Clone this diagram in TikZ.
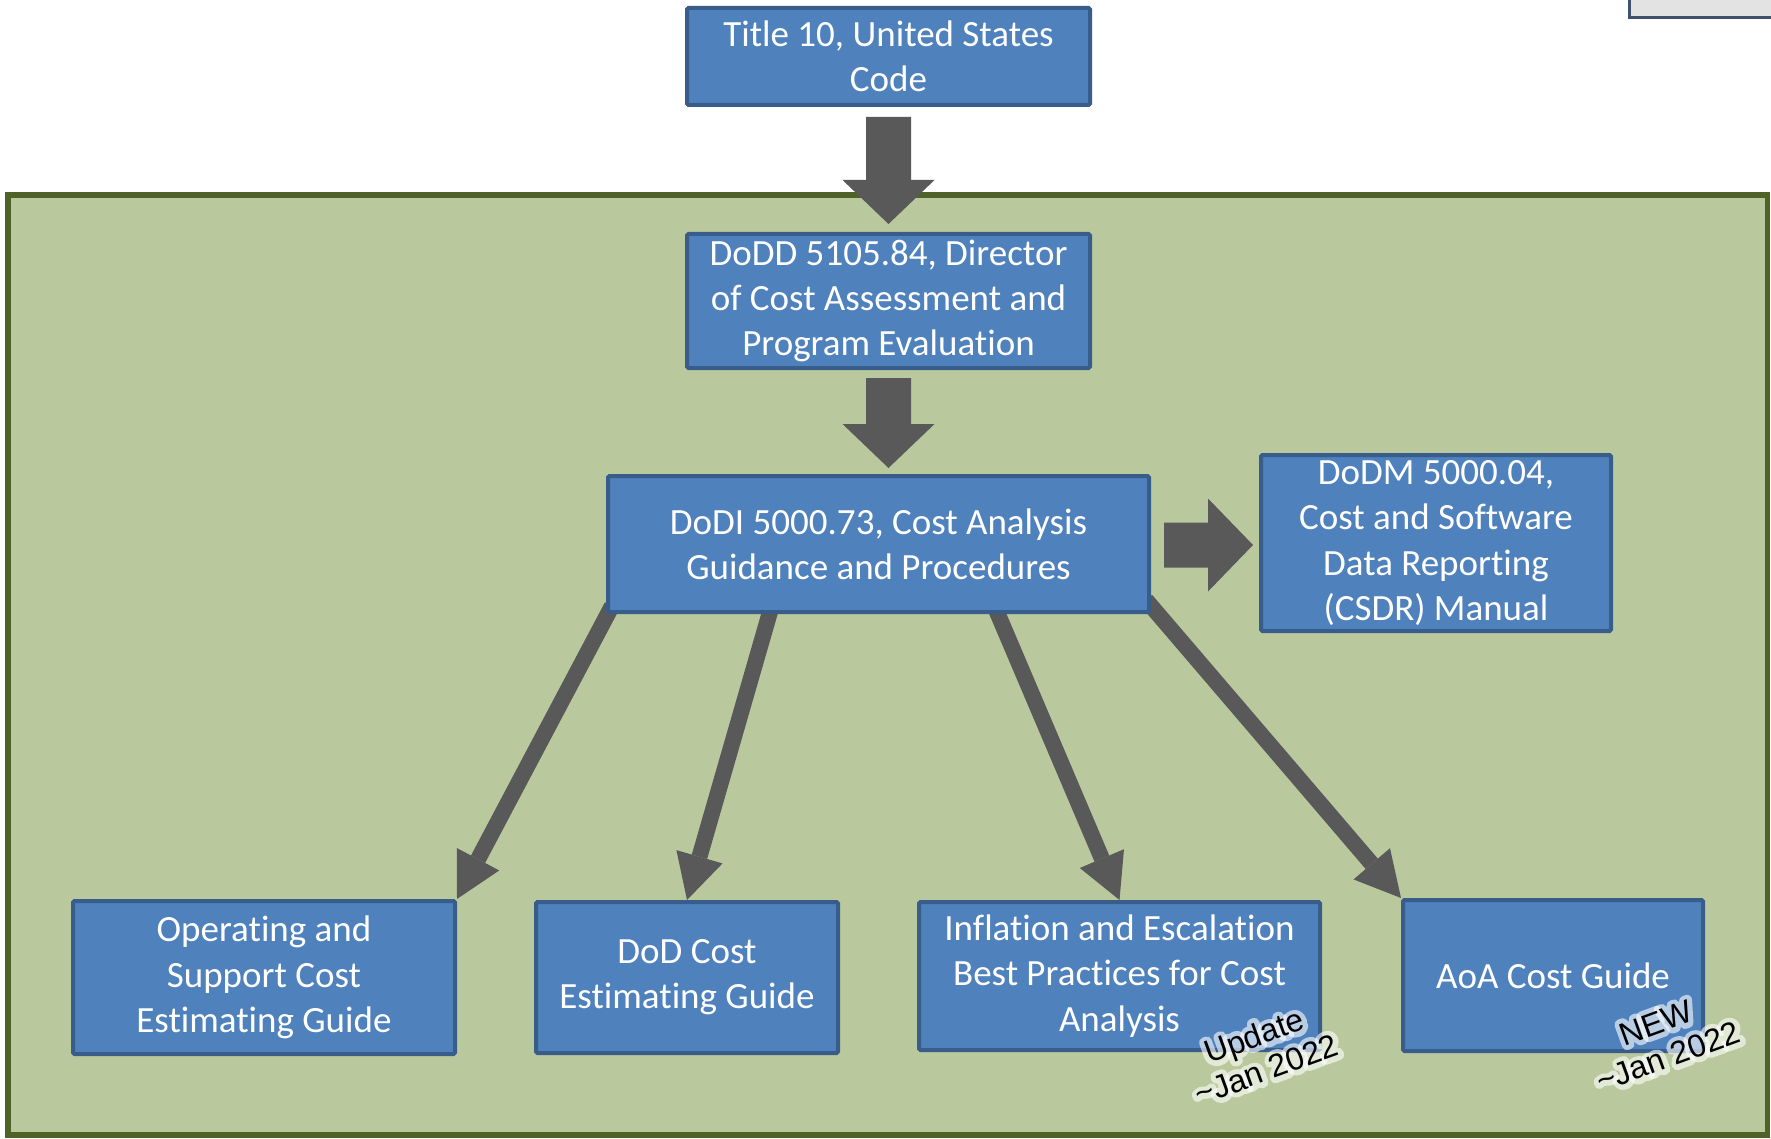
\documentclass[tikz,border=0pt]{standalone}
\usepackage{fontspec}
\setmainfont{Carlito}[Ligatures={NoCommon}]
\newfontfamily\arialfont{Liberation Sans}
\usetikzlibrary{arrows.meta,calc}
\definecolor{boxblue}{RGB}{79,129,189}
\definecolor{boxborder}{RGB}{56,93,138}
\definecolor{framefill}{RGB}{186,201,157}
\definecolor{frameline}{RGB}{79,98,40}
\definecolor{arrowgray}{RGB}{89,89,89}
\definecolor{tabfill}{RGB}{227,227,227}
\definecolor{tabline}{RGB}{64,80,110}
\pgfdeclarelayer{bg}\pgfdeclarelayer{conn}\pgfsetlayers{bg,conn,main}
% block arrow pointing down: #1 start point, #2 tip point
\newcommand\blkdown[2]{%
  \fill[arrowgray] let \p1=(#1), \p2=(#2) in
    (\x1-22.5pt,\y1) -- (\x1+22.5pt,\y1) -- (\x1+22.5pt,\y2+44pt) -- (\x1+46pt,\y2+44pt)
    -- (\x1,\y2) -- (\x1-46pt,\y2+44pt) -- (\x1-22.5pt,\y2+44pt) -- cycle;}
% block arrow pointing right
\newcommand\blkright[2]{%
  \fill[arrowgray] let \p1=(#1), \p2=(#2) in
    (\x1,\y1+22.5pt) -- (\x2-45pt,\y1+22.5pt) -- (\x2-45pt,\y1+46.5pt) -- (\x2,\y1)
    -- (\x2-45pt,\y1-46.5pt) -- (\x2-45pt,\y1-22.5pt) -- (\x1,\y1-22.5pt) -- cycle;}
% outline-stroked text used as a glow
\newcommand\glowtext[2]{\special{pdf:literal direct 1 J 1 j #1 w 1 1 1 RG 1 Tr}#2\special{pdf:literal direct 0 Tr}}
\newcommand\glowlabel[4]{%
  \node[lbl,opacity=0.6,rotate=#3] (#1-g) at (#2) {\glowtext{10}{#4}};
  \node[lbl,rotate=#3] (#1) at (#2) {#4};}
\begin{document}
\begin{tikzpicture}[x=1pt,y=-1pt,
  box/.style={draw=boxborder,line width=4pt,fill=boxblue,text=white,align=center,
    inner sep=0pt,rounded corners=1.5pt,font=\fontsize{37}{45.3}\selectfont},
  diag/.style={draw=arrowgray,line width=16pt,
    -{Triangle[length=45pt,width=48pt,line width=0pt]}},
  lbl/.style={align=center,inner sep=0pt,text=black,
    font=\arialfont\fontsize{32}{36}\selectfont}]
\useasboundingbox (0,0) rectangle (1771,1139);

% background frame and top-right tab
\begin{pgfonlayer}{bg}
\draw[draw=frameline,fill=framefill,line width=5.5pt] (8,195) rectangle (1767.5,1135);
\draw[draw=tabline,fill=tabfill,line width=3pt] (1629.5,-10) rectangle (1790,18);
\end{pgfonlayer}

% boxes
\node[box,minimum width=403pt,minimum height=97pt] (t) at (888.5,56.5)
  {Title 10, United States\\Code};
\node[box,minimum width=403pt,minimum height=134pt] (d) at (888.5,301)
  {DoDD 5105.84, Director\\of Cost Assessment and\\Program Evaluation};
\node[box,minimum width=541pt,minimum height=136pt] (dodi) at (878.5,544)
  {DoDI 5000.73, Cost Analysis\\Guidance and Procedures};
\node[box,minimum width=350pt,minimum height=176pt] (dodm) at (1436,543)
  {DoDM 5000.04,\\Cost and Software\\Data Reporting\\(CSDR) Manual};
\node[box,minimum width=382pt,minimum height=153pt] (os) at (264,977.5)
  {Operating and\\Support Cost\\Estimating Guide};
\node[box,minimum width=302pt,minimum height=151pt] (dce) at (687,977.5)
  {DoD Cost\\Estimating Guide};
\node[box,minimum width=401pt,minimum height=148pt] (infl) at (1119.5,976)
  {Inflation and Escalation\\Best Practices for Cost\\Analysis};
\node[box,minimum width=300pt,minimum height=151pt] (aoa) at (1553,975.5)
  {AoA Cost Guide};

% block arrows
\blkdown{$(t.south)+(0,10)$}{$(d.north)+(0,-8)$}
\blkdown{$(d.south)+(0,8)$}{$(dodi.north)+(0,-6)$}
\blkright{$(dodi.east)+(13,1)$}{$(dodm.west)+(-6,0)$}

% diagonal arrows
\begin{pgfonlayer}{conn}
\draw[diag] ([shift={(6,-8)}]dodi.south west) -- (os.north east);
\draw[diag] ([shift={(-106.5,-9)}]dodi.south) -- (dce.north);
\draw[diag] ([shift={(115.5,-9)}]dodi.south) -- (infl.north);
\draw[diag] ([shift={(-5,-14)}]dodi.south east) -- (aoa.north west);
\end{pgfonlayer}

% labels
\glowlabel{upd}{1260,1052.5}{20}{Update\\\textasciitilde Jan 2022}
\glowlabel{new}{1662,1040}{20}{NEW\\\textasciitilde Jan 2022}
\end{tikzpicture}
\end{document}
